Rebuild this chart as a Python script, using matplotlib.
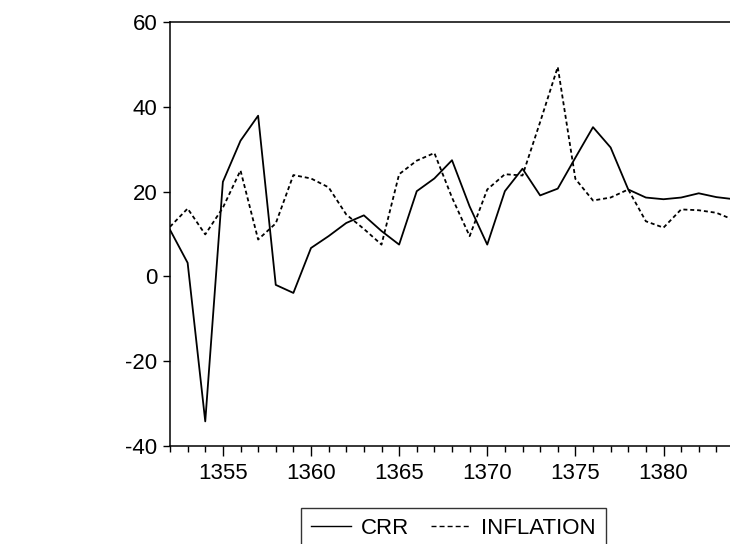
import matplotlib
matplotlib.use("Agg")
import matplotlib.pyplot as plt
from matplotlib.ticker import MultipleLocator

plt.rcParams['font.family'] = ['Liberation Sans', 'DejaVu Sans']
plt.rcParams['axes.unicode_minus'] = False

years = list(range(1352, 1385))
crr = [11.0, 3.2, -34.2, 22.3, 32.0, 37.9, -2.0, -3.9, 6.7, 9.5,
       12.6, 14.4, 10.7, 7.5, 20.1, 23.1, 27.4, 16.5, 7.5, 20.1,
       25.4, 19.1, 20.7, 28.0, 35.2, 30.4, 20.5, 18.6, 18.2, 18.6,
       19.6, 18.7, 18.2]
inflation = [11.7, 16.0, 9.9, 16.2, 25.0, 8.7, 12.5, 23.9, 23.1, 21.0,
             14.6, 11.2, 7.5, 24.1, 27.3, 29.1, 18.6, 9.5, 20.5, 24.1,
             23.8, 36.4, 49.4, 23.0, 17.9, 18.6, 20.5, 13.0, 11.5, 15.8,
             15.6, 15.0, 13.3]
series_labels = ["CRR", "INFLATION"]
yticks = [-40, -20, 0, 20, 40, 60]
xticks = [1355, 1360, 1365, 1370, 1375, 1380]

W, H = 730, 544
fig = plt.figure(figsize=(W / 100, H / 100), dpi=100)
ax = fig.add_axes([170 / W, (H - 446) / H, 564 / W, (446 - 22) / H])

ax.plot(years, crr, color='black', lw=1.3, label=series_labels[0])
ax.plot(years, inflation, color='black', lw=1.3, linestyle=(0, (2.2, 1.6)),
        label=series_labels[1])

ax.set_xlim(1352, 1384)
ax.set_ylim(-40, 60)
ax.set_yticks(yticks)
ax.set_xticks(xticks)
ax.xaxis.set_minor_locator(MultipleLocator(1))
ax.tick_params(axis='both', which='major', direction='out', width=1,
               labelsize=16, colors='black')
ax.tick_params(axis='x', which='major', length=7.2, pad=5)
ax.tick_params(axis='x', which='minor', direction='out', length=4, width=1)
ax.tick_params(axis='y', which='major', length=5, pad=4)
for s in ax.spines.values():
    s.set_linewidth(1.1)
    s.set_color('black')

leg = fig.legend(loc='upper left', bbox_to_anchor=(301 / W, 1 - 508 / H),
                 ncol=2, frameon=True, fancybox=False, fontsize=16,
                 handlelength=1.8, handletextpad=0.45, columnspacing=1.0,
                 borderaxespad=0, borderpad=0.45)
leg.get_frame().set_edgecolor('black')
leg.get_frame().set_linewidth(1.0)
leg_lines = leg.get_lines()
for line in leg_lines:
    line.set_linewidth(1.0)
leg_lines[1].set_linestyle((0, (3.6, 2.2)))

fig.savefig("out.png", dpi=100)
